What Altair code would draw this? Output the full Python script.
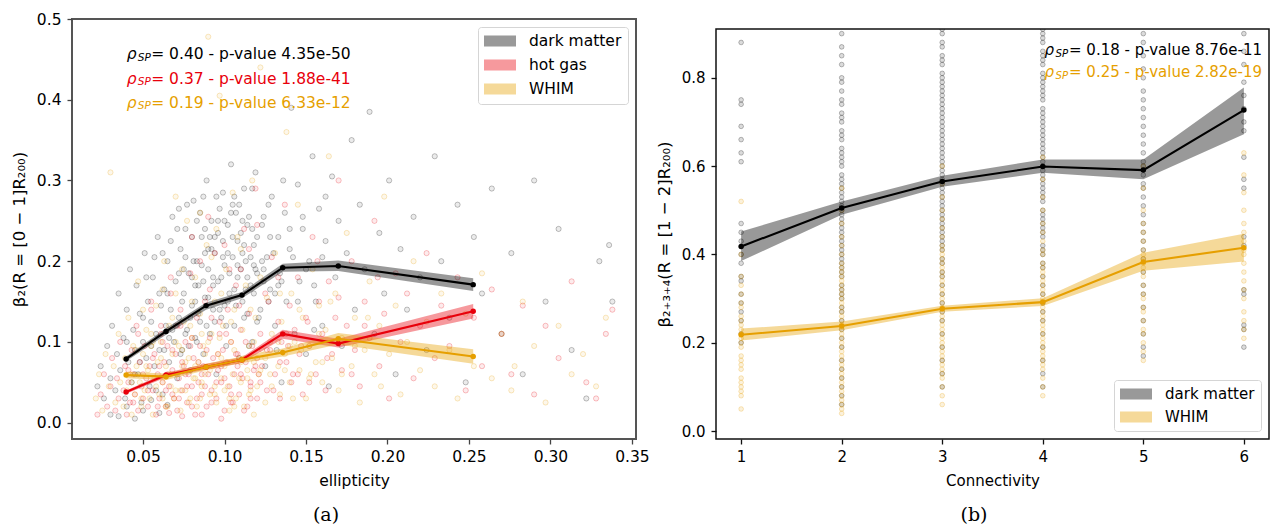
import altair as alt
import pandas as pd

FONT = "DejaVu Sans"
BLACK = "#000000"
RED = "#e8000b"
ORANGE = "#e69f00"

# ---------------- panel (a): binned curves ----------------
ell_bin = [0.0396, 0.0641, 0.0887, 0.1107, 0.1357, 0.1698, 0.2526]
dm_mean = [0.079, 0.113, 0.145, 0.158, 0.192, 0.194, 0.171]
dm_lo = [0.076, 0.109, 0.140, 0.154, 0.187, 0.188, 0.163]
dm_hi = [0.082, 0.117, 0.149, 0.162, 0.197, 0.201, 0.179]
gas_mean = [0.038, 0.059, 0.069, 0.078, 0.110, 0.098, 0.138]
gas_lo = [0.036, 0.056, 0.066, 0.074, 0.104, 0.093, 0.129]
gas_hi = [0.040, 0.062, 0.073, 0.081, 0.115, 0.104, 0.147]
whim_mean = [0.059, 0.057, 0.069, 0.078, 0.087, 0.104, 0.082]
whim_lo = [0.055, 0.053, 0.065, 0.074, 0.082, 0.097, 0.073]
whim_hi = [0.063, 0.061, 0.073, 0.082, 0.092, 0.111, 0.091]

# ---------------- panel (a): individual objects ----------------
dm_pts_x = [0.022, 0.024, 0.026, 0.028, 0.030, 0.031, 0.033, 0.034, 0.035, 0.036,
            0.038, 0.039, 0.040, 0.041, 0.042, 0.043, 0.044, 0.045, 0.046, 0.047,
            0.048, 0.049, 0.050, 0.051, 0.052, 0.053, 0.054, 0.055, 0.056, 0.057,
            0.058, 0.059, 0.060, 0.061, 0.062, 0.063, 0.064, 0.065, 0.066, 0.067,
            0.068, 0.069, 0.070, 0.071, 0.072, 0.073, 0.074, 0.075, 0.076, 0.077,
            0.078, 0.079, 0.080, 0.081, 0.082, 0.083, 0.084, 0.085, 0.086, 0.087,
            0.088, 0.089, 0.090, 0.091, 0.092, 0.093, 0.094, 0.095, 0.096, 0.097,
            0.098, 0.099, 0.100, 0.101, 0.102, 0.103, 0.104, 0.105, 0.106, 0.107,
            0.108, 0.109, 0.110, 0.111, 0.112, 0.113, 0.114, 0.115, 0.116, 0.117,
            0.118, 0.119, 0.120, 0.122, 0.123, 0.125, 0.126, 0.128, 0.129, 0.131,
            0.133, 0.134, 0.135, 0.137, 0.138, 0.140, 0.141, 0.143, 0.145, 0.146,
            0.148, 0.150, 0.152, 0.154, 0.156, 0.158, 0.160, 0.162, 0.164, 0.166,
            0.168, 0.170, 0.172, 0.175, 0.178, 0.180, 0.183, 0.186, 0.189, 0.192,
            0.195, 0.198, 0.201, 0.205, 0.208, 0.212, 0.216, 0.220, 0.224, 0.229,
            0.233, 0.238, 0.243, 0.248, 0.253, 0.258, 0.264, 0.270, 0.276, 0.283,
            0.290, 0.297, 0.305, 0.313, 0.322, 0.330, 0.336, 0.338,
            0.070, 0.072, 0.074, 0.076, 0.078, 0.080, 0.082, 0.084, 0.086, 0.088,
            0.090, 0.092, 0.094, 0.096, 0.098, 0.100, 0.102, 0.104, 0.106, 0.108,
            0.110, 0.112, 0.114, 0.116, 0.118, 0.120, 0.124, 0.127, 0.130, 0.133,
            0.030, 0.040, 0.050, 0.060, 0.045, 0.035, 0.055, 0.065,
            0.062, 0.065, 0.068, 0.071, 0.073, 0.075, 0.077, 0.079, 0.081, 0.083,
            0.085, 0.087, 0.089, 0.091, 0.093, 0.095, 0.097, 0.099, 0.101, 0.103,
            0.105, 0.107, 0.109, 0.111, 0.113, 0.115, 0.117, 0.119, 0.121, 0.124,
            0.045, 0.050, 0.055, 0.060, 0.040, 0.048, 0.058, 0.066, 0.140, 0.150,
            0.160, 0.145, 0.155, 0.135, 0.128, 0.132,
            0.052, 0.057, 0.063, 0.067, 0.072, 0.076, 0.080, 0.083, 0.087, 0.090,
            0.093, 0.096, 0.099, 0.102, 0.105, 0.108, 0.111, 0.114, 0.117, 0.120,
            0.123, 0.127, 0.131, 0.136, 0.142, 0.148, 0.155, 0.162, 0.094, 0.100,
            0.106, 0.112, 0.088, 0.082, 0.118, 0.124]
dm_pts_y = [0.045, 0.070, 0.030, 0.095, 0.055, 0.120, 0.040, 0.085, 0.160, 0.065,
            0.105, 0.030, 0.140, 0.075, 0.190, 0.050, 0.115, 0.090, 0.170, 0.060,
            0.135, 0.025, 0.100, 0.210, 0.080, 0.150, 0.045, 0.125, 0.180, 0.070,
            0.110, 0.230, 0.090, 0.145, 0.035, 0.165, 0.120, 0.200, 0.075, 0.140,
            0.255, 0.100, 0.175, 0.055, 0.130, 0.215, 0.090, 0.160, 0.240, 0.115,
            0.185, 0.065, 0.145, 0.275, 0.105, 0.200, 0.170, 0.125, 0.230, 0.085,
            0.155, 0.300, 0.190, 0.110, 0.250, 0.140, 0.210, 0.060, 0.175, 0.265,
            0.130, 0.225, 0.195, 0.095, 0.245, 0.160, 0.320, 0.205, 0.120, 0.260,
            0.180, 0.080, 0.235, 0.150, 0.290, 0.200, 0.135, 0.255, 0.170, 0.100,
            0.220, 0.310, 0.185, 0.140, 0.245, 0.070, 0.205, 0.165, 0.280, 0.120,
            0.230, 0.185, 0.050, 0.260, 0.150, 0.215, 0.390, 0.110, 0.295, 0.175,
            0.240, 0.085, 0.200, 0.330, 0.150, 0.265, 0.120, 0.225, 0.045, 0.305,
            0.180, 0.250, 0.095, 0.210, 0.350, 0.140, 0.270, 0.190, 0.385, 0.110,
            0.235, 0.160, 0.300, 0.060, 0.215, 0.140, 0.255, 0.180, 0.090, 0.330,
            0.200, 0.130, 0.270, 0.050, 0.230, 0.160, 0.290, 0.110, 0.210, 0.060,
            0.300, 0.150, 0.240, 0.090, 0.030, 0.200, 0.220, 0.150,
            0.120, 0.185, 0.150, 0.205, 0.095, 0.230, 0.170, 0.135, 0.195, 0.240,
            0.155, 0.215, 0.125, 0.250, 0.180, 0.145, 0.210, 0.260, 0.165, 0.225,
            0.190, 0.130, 0.245, 0.205, 0.160, 0.230, 0.190, 0.150, 0.210, 0.170,
            0.010, 0.020, 0.015, 0.012, 0.005, 0.008, 0.028, 0.022,
            0.210, 0.160, 0.115, 0.240, 0.085, 0.190, 0.270, 0.130, 0.200, 0.100,
            0.260, 0.175, 0.120, 0.230, 0.180, 0.280, 0.140, 0.205, 0.120, 0.185,
            0.230, 0.145, 0.270, 0.210, 0.165, 0.095, 0.240, 0.190, 0.130, 0.255,
            0.060, 0.130, 0.095, 0.160, 0.100, 0.075, 0.040, 0.105, 0.240, 0.190,
            0.205, 0.150, 0.115, 0.175, 0.230, 0.090,
            0.180, 0.205, 0.090, 0.225, 0.265, 0.110, 0.180, 0.250, 0.280, 0.215,
            0.170, 0.235, 0.285, 0.150, 0.270, 0.195, 0.250, 0.180, 0.290, 0.125,
            0.200, 0.270, 0.160, 0.300, 0.205, 0.255, 0.170, 0.280, 0.230, 0.250,
            0.280, 0.220, 0.210, 0.150, 0.195, 0.175]

gas_pts_x = [0.022, 0.024, 0.026, 0.028, 0.030, 0.031, 0.033, 0.034, 0.035, 0.036,
             0.038, 0.039, 0.040, 0.041, 0.042, 0.043, 0.044, 0.045, 0.046, 0.047,
             0.048, 0.049, 0.050, 0.051, 0.052, 0.053, 0.054, 0.055, 0.056, 0.057,
             0.058, 0.059, 0.060, 0.061, 0.062, 0.063, 0.064, 0.065, 0.066, 0.067,
             0.068, 0.069, 0.070, 0.071, 0.072, 0.073, 0.074, 0.075, 0.076, 0.077,
             0.078, 0.079, 0.080, 0.081, 0.082, 0.083, 0.084, 0.085, 0.086, 0.087,
             0.088, 0.089, 0.090, 0.091, 0.092, 0.093, 0.094, 0.095, 0.096, 0.097,
             0.098, 0.099, 0.100, 0.101, 0.102, 0.103, 0.104, 0.105, 0.106, 0.107,
             0.108, 0.109, 0.110, 0.111, 0.112, 0.113, 0.114, 0.115, 0.116, 0.117,
             0.118, 0.119, 0.120, 0.122, 0.123, 0.125, 0.126, 0.128, 0.129, 0.131,
             0.133, 0.134, 0.135, 0.137, 0.138, 0.140, 0.141, 0.143, 0.145, 0.146,
             0.148, 0.150, 0.152, 0.154, 0.156, 0.158, 0.160, 0.162, 0.164, 0.166,
             0.168, 0.170, 0.172, 0.175, 0.178, 0.180, 0.183, 0.186, 0.189, 0.192,
             0.195, 0.198, 0.201, 0.205, 0.208, 0.212, 0.216, 0.220, 0.224, 0.229,
             0.233, 0.238, 0.243, 0.248, 0.253, 0.258, 0.264, 0.270, 0.276, 0.283,
             0.290, 0.297, 0.305, 0.313, 0.322, 0.328, 0.334, 0.338,
             0.060, 0.064, 0.068, 0.072, 0.076, 0.080, 0.084, 0.088, 0.092, 0.096,
             0.100, 0.104, 0.108, 0.112, 0.116, 0.120, 0.066, 0.074, 0.086, 0.098,
             0.041, 0.044, 0.047, 0.050, 0.053, 0.056, 0.059, 0.062, 0.065, 0.068,
             0.071, 0.074, 0.077, 0.080, 0.083, 0.086, 0.089, 0.092, 0.095, 0.098,
             0.101, 0.104, 0.107, 0.110, 0.113, 0.116, 0.119, 0.122, 0.126, 0.130,
             0.134, 0.138, 0.142, 0.147, 0.152,
             0.055, 0.061, 0.067, 0.073, 0.079, 0.085, 0.091, 0.097, 0.103, 0.109,
             0.115, 0.121, 0.127, 0.133, 0.139, 0.145, 0.151, 0.157, 0.163, 0.170,
             0.178, 0.186, 0.194, 0.080, 0.090, 0.100, 0.110, 0.120]
gas_pts_y = [0.010, 0.035, 0.060, 0.020, 0.045, 0.080, 0.015, 0.055, 0.030, 0.100,
             0.040, 0.070, 0.010, 0.050, 0.025, 0.090, 0.060, 0.035, 0.120, 0.015,
             0.075, 0.045, 0.030, 0.095, 0.055, 0.020, 0.070, 0.140, 0.040, 0.085,
             0.010, 0.060, 0.030, 0.110, 0.050, 0.075, 0.020, 0.095, 0.045, 0.160,
             0.065, 0.030, 0.085, 0.015, 0.055, 0.120, 0.040, 0.070, 0.100, 0.025,
             0.060, 0.185, 0.045, 0.080, 0.010, 0.130, 0.050, 0.095, 0.035, 0.070,
             0.150, 0.020, 0.060, 0.105, 0.040, 0.080, 0.210, 0.030, 0.065, 0.125,
             0.050, 0.090, 0.015, 0.075, 0.140, 0.045, 0.100, 0.025, 0.060, 0.170,
             0.085, 0.035, 0.115, 0.055, 0.240, 0.075, 0.020, 0.135, 0.045, 0.095,
             0.065, 0.290, 0.030, 0.110, 0.070, 0.160, 0.040, 0.090, 0.205, 0.060,
             0.125, 0.030, 0.100, 0.270, 0.075, 0.145, 0.050, 0.115, 0.180, 0.085,
             0.035, 0.130, 0.095, 0.230, 0.060, 0.150, 0.110, 0.040, 0.175, 0.085,
             0.130, 0.300, 0.065, 0.120, 0.200, 0.090, 0.045, 0.150, 0.105, 0.250,
             0.070, 0.135, 0.030, 0.185, 0.100, 0.160, 0.055, 0.120, 0.210, 0.080,
             0.145, 0.095, 0.180, 0.040, 0.130, 0.070, 0.165, 0.110, 0.060, 0.145,
             0.035, 0.120, 0.080, 0.175, 0.050, 0.030, 0.110, 0.140,
             0.070, 0.040, 0.090, 0.030, 0.060, 0.020, 0.075, 0.045, 0.025, 0.085,
             0.055, 0.035, 0.070, 0.015, 0.050, 0.080, 0.012, 0.008, 0.010, 0.005,
             0.065, 0.025, 0.110, 0.060, 0.040, 0.080, 0.020, 0.100, 0.060, 0.035,
             0.120, 0.075, 0.045, 0.105, 0.030, 0.060, 0.090, 0.130, 0.050, 0.070,
             0.110, 0.025, 0.085, 0.060, 0.100, 0.030, 0.070, 0.050, 0.090, 0.040,
             0.075, 0.110, 0.060, 0.095, 0.050,
             0.150, 0.120, 0.180, 0.140, 0.095, 0.200, 0.165, 0.110, 0.190, 0.145,
             0.215, 0.060, 0.150, 0.180, 0.095, 0.060, 0.125, 0.200, 0.080, 0.155,
             0.060, 0.120, 0.180, 0.230, 0.255, 0.220, 0.190, 0.245]

whim_pts_x = [0.021, 0.023, 0.025, 0.027, 0.029, 0.030, 0.032, 0.033, 0.035, 0.036,
              0.038, 0.039, 0.040, 0.041, 0.042, 0.043, 0.044, 0.045, 0.046, 0.047,
              0.048, 0.049, 0.050, 0.051, 0.052, 0.053, 0.054, 0.055, 0.056, 0.057,
              0.058, 0.059, 0.060, 0.061, 0.062, 0.063, 0.064, 0.065, 0.066, 0.067,
              0.068, 0.069, 0.070, 0.071, 0.072, 0.073, 0.074, 0.075, 0.076, 0.077,
              0.078, 0.079, 0.080, 0.081, 0.082, 0.083, 0.084, 0.085, 0.086, 0.087,
              0.088, 0.089, 0.090, 0.091, 0.092, 0.093, 0.094, 0.095, 0.096, 0.097,
              0.098, 0.099, 0.100, 0.101, 0.102, 0.103, 0.104, 0.105, 0.106, 0.107,
              0.108, 0.109, 0.110, 0.111, 0.112, 0.113, 0.114, 0.115, 0.116, 0.117,
              0.118, 0.119, 0.120, 0.122, 0.123, 0.125, 0.126, 0.128, 0.129, 0.131,
              0.133, 0.134, 0.135, 0.137, 0.138, 0.140, 0.141, 0.143, 0.145, 0.146,
              0.148, 0.150, 0.152, 0.154, 0.156, 0.158, 0.160, 0.162, 0.164, 0.166,
              0.168, 0.170, 0.172, 0.175, 0.178, 0.180, 0.183, 0.186, 0.189, 0.192,
              0.195, 0.198, 0.201, 0.205, 0.208, 0.212, 0.216, 0.220, 0.224, 0.229,
              0.233, 0.238, 0.243, 0.248, 0.253, 0.258, 0.264, 0.270, 0.276, 0.278,
              0.283, 0.290, 0.297, 0.305, 0.313, 0.320, 0.328, 0.334,
              0.062, 0.066, 0.070, 0.074, 0.078, 0.082, 0.086, 0.090, 0.094, 0.098,
              0.102, 0.106, 0.110, 0.114, 0.118, 0.122,
              0.043, 0.046, 0.049, 0.052, 0.055, 0.058, 0.061, 0.064, 0.067, 0.070,
              0.073, 0.076, 0.079, 0.082, 0.085, 0.088, 0.091, 0.094, 0.097, 0.100,
              0.103, 0.106, 0.109, 0.112, 0.115, 0.118, 0.121, 0.125, 0.129, 0.133,
              0.137, 0.142, 0.147, 0.153, 0.160,
              0.050, 0.056, 0.062, 0.068, 0.074, 0.080, 0.086, 0.092, 0.098, 0.104,
              0.110, 0.116, 0.122, 0.128, 0.134, 0.140, 0.146, 0.152, 0.158, 0.165,
              0.172, 0.180, 0.188, 0.196, 0.070, 0.085, 0.095, 0.105]
whim_pts_y = [0.030, 0.060, 0.015, 0.085, 0.045, 0.310, 0.070, 0.025, 0.110, 0.050,
              0.020, 0.080, 0.040, 0.130, 0.060, 0.010, 0.095, 0.035, 0.070, 0.175,
              0.050, 0.020, 0.085, 0.040, 0.115, 0.065, 0.030, 0.095, 0.010, 0.055,
              0.145, 0.075, 0.035, 0.100, 0.050, 0.200, 0.070, 0.020, 0.120, 0.045,
              0.085, 0.030, 0.160, 0.060, 0.095, 0.015, 0.070, 0.125, 0.040, 0.250,
              0.080, 0.030, 0.105, 0.055, 0.180, 0.020, 0.075, 0.135, 0.045, 0.095,
              0.060, 0.220, 0.478, 0.035, 0.110, 0.070, 0.150, 0.025, 0.085, 0.405,
              0.055, 0.120, 0.040, 0.190, 0.075, 0.015, 0.100, 0.060, 0.140, 0.030,
              0.230, 0.080, 0.050, 0.115, 0.020, 0.170, 0.065, 0.095, 0.040, 0.300,
              0.075, 0.130, 0.045, 0.440, 0.090, 0.025, 0.155, 0.060, 0.110, 0.210,
              0.070, 0.035, 0.125, 0.085, 0.360, 0.050, 0.160, 0.100, 0.270, 0.065,
              0.130, 0.030, 0.095, 0.190, 0.075, 0.145, 0.050, 0.115, 0.330, 0.080,
              0.160, 0.040, 0.105, 0.235, 0.070, 0.130, 0.025, 0.090, 0.175, 0.060,
              0.120, 0.280, 0.085, 0.145, 0.035, 0.100, 0.200, 0.065, 0.125, 0.045,
              0.160, 0.090, 0.030, 0.135, 0.070, 0.185, 0.055, 0.110, 0.040, 0.070,
              0.150, 0.095, 0.025, 0.120, 0.060, 0.085, 0.045, 0.130,
              0.030, 0.060, 0.040, 0.090, 0.025, 0.070, 0.050, 0.100, 0.035, 0.080,
              0.045, 0.020, 0.075, 0.055, 0.010, 0.065,
              0.050, 0.090, 0.030, 0.070, 0.110, 0.045, 0.080, 0.020, 0.060, 0.100,
              0.040, 0.075, 0.120, 0.055, 0.030, 0.085, 0.065, 0.045, 0.105, 0.070,
              0.030, 0.090, 0.055, 0.080, 0.035, 0.100, 0.060, 0.080, 0.045, 0.100,
              0.065, 0.030, 0.090, 0.060, 0.075,
              0.140, 0.100, 0.165, 0.130, 0.190, 0.150, 0.110, 0.205, 0.160, 0.125,
              0.215, 0.140, 0.180, 0.100, 0.160, 0.095, 0.140, 0.055, 0.110, 0.150,
              0.060, 0.095, 0.130, 0.045, 0.280, 0.260, 0.240, 0.285]

# ---------------- panel (b): binned curves ----------------
conn = [1, 2, 3, 4, 5, 6]
dm_b_mean = [0.418, 0.505, 0.565, 0.599, 0.591, 0.727]
dm_b_lo = [0.385, 0.490, 0.553, 0.585, 0.570, 0.672]
dm_b_hi = [0.452, 0.520, 0.578, 0.615, 0.615, 0.778]
whim_b_mean = [0.218, 0.238, 0.277, 0.292, 0.383, 0.415]
whim_b_lo = [0.205, 0.228, 0.270, 0.283, 0.363, 0.384]
whim_b_hi = [0.232, 0.248, 0.284, 0.301, 0.404, 0.447]

# ---------------- panel (b): individual objects per connectivity ----------------
dm_c1 = [0.88, 0.75, 0.74, 0.69, 0.66, 0.63, 0.61, 0.47, 0.45, 0.43, 0.40, 0.38, 0.35,
         0.34, 0.31, 0.29, 0.27, 0.25, 0.22, 0.20]
dm_c2 = [0.90, 0.87, 0.85, 0.83, 0.80, 0.79, 0.77, 0.75, 0.74, 0.72, 0.71, 0.70, 0.68,
         0.67, 0.66, 0.64, 0.63, 0.62, 0.61, 0.60, 0.58, 0.57, 0.56, 0.55, 0.54, 0.53,
         0.52, 0.51, 0.50, 0.49, 0.48, 0.47, 0.46, 0.45, 0.44, 0.43, 0.42, 0.41, 0.40,
         0.39, 0.38, 0.37, 0.36, 0.35, 0.33, 0.32, 0.31, 0.30, 0.28, 0.27, 0.25, 0.23,
         0.21, 0.19, 0.16, 0.14, 0.12, 0.10, 0.08, 0.06]
dm_c3 = [0.91, 0.90, 0.88, 0.87, 0.85, 0.84, 0.83, 0.81, 0.80, 0.79, 0.78, 0.77, 0.76,
         0.75, 0.74, 0.73, 0.72, 0.71, 0.70, 0.69, 0.68, 0.67, 0.66, 0.65, 0.64, 0.63,
         0.62, 0.61, 0.60, 0.59, 0.58, 0.57, 0.56, 0.55, 0.54, 0.53, 0.52, 0.51, 0.50,
         0.49, 0.48, 0.47, 0.46, 0.45, 0.44, 0.43, 0.42, 0.41, 0.39, 0.38, 0.36, 0.35,
         0.33, 0.31, 0.29, 0.27, 0.25, 0.22, 0.19, 0.16, 0.13, 0.10]
dm_c4 = [0.91, 0.90, 0.89, 0.88, 0.86, 0.85, 0.84, 0.83, 0.81, 0.80, 0.79, 0.78, 0.77,
         0.76, 0.75, 0.73, 0.72, 0.71, 0.70, 0.69, 0.68, 0.67, 0.66, 0.65, 0.64, 0.63,
         0.62, 0.61, 0.60, 0.59, 0.58, 0.57, 0.56, 0.55, 0.54, 0.53, 0.52, 0.50, 0.49,
         0.48, 0.47, 0.46, 0.45, 0.44, 0.42, 0.41, 0.40, 0.38, 0.37, 0.35, 0.33, 0.31,
         0.29, 0.27, 0.25, 0.22, 0.19, 0.16, 0.13, 0.10]
dm_c5 = [0.90, 0.88, 0.85, 0.82, 0.80, 0.77, 0.75, 0.73, 0.71, 0.69, 0.67, 0.65, 0.63,
         0.61, 0.60, 0.58, 0.56, 0.55, 0.53, 0.51, 0.49, 0.47, 0.45, 0.43, 0.41, 0.39,
         0.36, 0.33, 0.31, 0.28, 0.25, 0.22, 0.19, 0.17]
dm_c6 = [0.90, 0.86, 0.83, 0.79, 0.76, 0.73, 0.70, 0.68, 0.62, 0.57, 0.55, 0.44, 0.42,
         0.32, 0.31, 0.24, 0.23, 0.19]
whim_c1 = [0.52, 0.40, 0.35, 0.33, 0.31, 0.29, 0.28, 0.26, 0.25, 0.24, 0.23, 0.22, 0.21,
           0.20, 0.19, 0.17, 0.16, 0.15, 0.14, 0.12, 0.11, 0.10, 0.09, 0.08, 0.05]
whim_c2 = [0.55, 0.50, 0.47, 0.44, 0.42, 0.40, 0.38, 0.37, 0.36, 0.35, 0.34, 0.33, 0.32,
           0.31, 0.30, 0.29, 0.28, 0.27, 0.26, 0.25, 0.24, 0.23, 0.22, 0.21, 0.20, 0.19,
           0.18, 0.17, 0.16, 0.15, 0.14, 0.13, 0.12, 0.11, 0.10, 0.09, 0.08, 0.07, 0.06,
           0.05, 0.04]
whim_c3 = [0.60, 0.56, 0.53, 0.50, 0.48, 0.46, 0.44, 0.42, 0.41, 0.40, 0.39, 0.38, 0.37,
           0.36, 0.35, 0.34, 0.33, 0.32, 0.31, 0.30, 0.29, 0.28, 0.27, 0.26, 0.25, 0.24,
           0.23, 0.22, 0.21, 0.20, 0.19, 0.18, 0.17, 0.16, 0.15, 0.14, 0.13, 0.12, 0.10,
           0.08, 0.06]
whim_c4 = [0.62, 0.57, 0.53, 0.50, 0.47, 0.45, 0.43, 0.41, 0.40, 0.38, 0.37, 0.36, 0.35,
           0.34, 0.33, 0.32, 0.31, 0.30, 0.29, 0.28, 0.27, 0.26, 0.25, 0.24, 0.23, 0.22,
           0.21, 0.20, 0.19, 0.18, 0.17, 0.16, 0.15, 0.14, 0.12, 0.10, 0.08]
whim_c5 = [0.60, 0.55, 0.50, 0.47, 0.45, 0.43, 0.41, 0.40, 0.39, 0.38, 0.37, 0.36, 0.35,
           0.33, 0.31, 0.30, 0.28, 0.27, 0.25, 0.23, 0.22, 0.20, 0.18, 0.16]
whim_c6 = [0.63, 0.58, 0.54, 0.50, 0.47, 0.45, 0.43, 0.41, 0.40, 0.38, 0.36, 0.34, 0.32,
           0.30, 0.27, 0.25, 0.23, 0.21]

# ---------------- annotations ----------------
a_rho = ["0.40", "0.37", "0.19"]
a_pval = ["4.35e-50", "1.88e-41", "6.33e-12"]
a_colors = [BLACK, RED, ORANGE]
b_rho = ["0.18", "0.25"]
b_pval = ["8.76e-11", "2.82e-19"]
b_colors = [BLACK, ORANGE]
series_a = ["dark matter", "hot gas", "WHIM"]
series_b = ["dark matter", "WHIM"]

# ---------------- build tables ----------------
def curve_df(xs, mean, lo, hi, name):
    return pd.DataFrame({"x": xs, "y": mean, "lo": lo, "hi": hi, "series": name})

curves_a = pd.concat([
    curve_df(ell_bin, dm_mean, dm_lo, dm_hi, "dark matter"),
    curve_df(ell_bin, gas_mean, gas_lo, gas_hi, "hot gas"),
    curve_df(ell_bin, whim_mean, whim_lo, whim_hi, "WHIM"),
], ignore_index=True)
pts_a = {
    "dark matter": pd.DataFrame({"x": dm_pts_x, "y": dm_pts_y}),
    "hot gas": pd.DataFrame({"x": gas_pts_x, "y": gas_pts_y}),
    "WHIM": pd.DataFrame({"x": whim_pts_x, "y": whim_pts_y}),
}
curves_b = pd.concat([
    curve_df(conn, dm_b_mean, dm_b_lo, dm_b_hi, "dark matter"),
    curve_df(conn, whim_b_mean, whim_b_lo, whim_b_hi, "WHIM"),
], ignore_index=True)

def strip_df(lists):
    xs, ys = [], []
    for c, vals in zip(conn, lists):
        xs += [c] * len(vals)
        ys += vals
    return pd.DataFrame({"x": xs, "y": ys})

pts_b = {
    "dark matter": strip_df([dm_c1, dm_c2, dm_c3, dm_c4, dm_c5, dm_c6]),
    "WHIM": strip_df([whim_c1, whim_c2, whim_c3, whim_c4, whim_c5, whim_c6]),
}

# ---------------- helpers ----------------
def make_axis(title, values, fmt, fs, tfs, tick_color, lab_pad, title_pad):
    return alt.Axis(title=title, values=values, format=fmt, grid=False, domain=False,
                    ticks=True, tickSize=5, tickWidth=1.3, tickColor=tick_color,
                    labelFont=FONT, labelFontSize=fs, labelColor="black",
                    labelPadding=lab_pad, labelFlush=False, labelOverlap=False,
                    titleFont=FONT, titleFontSize=tfs, titleFontWeight="normal",
                    titleColor="black", titlePadding=title_pad)


def annotation_layers(rhos, pvals, colors, x0, y0, dy, fs):
    layers = []
    for i, (r, p, c) in enumerate(zip(rhos, pvals, colors)):
        df = pd.DataFrame({"r": [r], "p": [p]})
        yy = y0 + i * dy
        base = alt.Chart(df)
        layers.append(base.mark_text(align="left", baseline="middle", font=FONT,
                                     fontSize=fs, fontStyle="italic", color=c)
                      .encode(x=alt.value(x0), y=alt.value(yy), text=alt.value("ρ")))
        layers.append(base.mark_text(align="left", baseline="middle", font=FONT,
                                     fontSize=fs * 0.68, fontStyle="italic", color=c)
                      .encode(x=alt.value(x0 + 11), y=alt.value(yy + 3.5), text=alt.value("SP")))
        layers.append(base.transform_calculate(t="'= ' + datum.r + ' - p-value ' + datum.p")
                      .mark_text(align="left", baseline="middle", font=FONT,
                                 fontSize=fs, color=c)
                      .encode(x=alt.value(x0 + 24.5), y=alt.value(yy), text="t:N"))
    return layers


def panel(curves, pts, series, colors, band_colors, xscale, yscale, xaxis, yaxis,
          legend, ann, caption, cap_pos, w, h, pt_size, fo, so, frame_color, frame_w):
    layers = []
    for s, c in zip(series, colors):
        layers.append(
            alt.Chart(pts[s]).mark_circle(color=c, size=pt_size, fillOpacity=fo,
                                          stroke=c, strokeOpacity=so, strokeWidth=1,
                                          clip=True)
            .encode(x=alt.X("x:Q", scale=xscale, axis=xaxis),
                    y=alt.Y("y:Q", scale=yscale, axis=yaxis))
        )
    layers.append(
        alt.Chart(curves).mark_area(opacity=0.4, clip=True)
        .encode(x=alt.X("x:Q", scale=xscale, axis=xaxis),
                y=alt.Y("lo:Q", scale=yscale, axis=yaxis),
                y2="hi:Q",
                color=alt.Color("series:N", scale=alt.Scale(domain=series, range=band_colors),
                                sort=series, legend=legend))
    )
    for s, c in zip(series, colors):
        sub = alt.Chart(curves).transform_filter(alt.datum.series == s)
        layers.append(sub.mark_line(color=c, strokeWidth=2.1)
                      .encode(x=alt.X("x:Q", scale=xscale, axis=xaxis),
                              y=alt.Y("y:Q", scale=yscale, axis=yaxis)))
        layers.append(sub.mark_circle(color=c, size=30, opacity=1)
                      .encode(x=alt.X("x:Q", scale=xscale, axis=xaxis),
                              y=alt.Y("y:Q", scale=yscale, axis=yaxis)))
    layers += ann
    cap_df = pd.DataFrame({"c": [caption]})
    layers.append(alt.Chart(cap_df).mark_text(font="DejaVu Serif", fontSize=19,
                                              color="black", baseline="middle",
                                              align="center")
                  .encode(x=alt.value(cap_pos[0]), y=alt.value(cap_pos[1]), text="c:N"))
    return alt.layer(*layers).properties(
        width=w, height=h,
        view=alt.ViewBackground(stroke=frame_color, strokeWidth=frame_w, fill="white"))


def make_legend(orient, fs, offset):
    # wide flat patch (32 x 11 px) drawn from the left edge of a 16 px symbol slot
    return alt.Legend(title=None, orient=orient, offset=offset, padding=6,
                      strokeColor="#d5d5d5", cornerRadius=3, fillColor="white",
                      labelFont=FONT, labelFontSize=fs, labelColor="black",
                      symbolType="M-1,-0.69H3V0.69H-1Z", symbolSize=256,
                      symbolOpacity=0.4, symbolStrokeWidth=0, labelOffset=29,
                      rowPadding=7)


# ---------------- panel (a) ----------------
xs_a = alt.Scale(domain=[0.0064, 0.3525], nice=False, zero=False)
ys_a = alt.Scale(domain=[-0.0202, 0.5], nice=False, zero=False)
xa_a = make_axis("ellipticity", [0.05, 0.10, 0.15, 0.20, 0.25, 0.30, 0.35], ".2f",
                 15.5, 15.5, "#444444", 5, 9)
ya_a = make_axis("β₂(R = [0 − 1]R₂₀₀)", [0.0, 0.1, 0.2, 0.3, 0.4, 0.5], ".1f",
                 15.5, 16.5, "#444444", 6, 9)
ann_a = annotation_layers(a_rho, a_pval, a_colors, 54.7, 35.3, 24.2, 15.5)
left = panel(curves_a, pts_a, series_a, [BLACK, RED, ORANGE], [BLACK, RED, ORANGE],
             xs_a, ys_a, xa_a, ya_a, make_legend("top-right", 15.5, 8), ann_a,
             "(a)", (254, 496), 564, 420, 27, 0.08, 0.24, "#555555", 2)

# ---------------- panel (b) ----------------
xs_b = alt.Scale(domain=[0.75, 6.25], nice=False, zero=False)
ys_b = alt.Scale(domain=[-0.018, 0.9105], nice=False, zero=False)
xa_b = make_axis("Connectivity", conn, "d", 15, 15, "#111111", 5, 9)
ya_b = make_axis("β₂₊₃₊₄(R = [1 − 2]R₂₀₀)", [0.0, 0.2, 0.4, 0.6, 0.8], ".1f",
                 15, 16.5, "#111111", 6, 9)
ann_b = annotation_layers(b_rho, b_pval, [BLACK, ORANGE], 328.5, 21, 22, 15)
right_main = panel(curves_b, pts_b, series_b, [BLACK, ORANGE], [BLACK, ORANGE],
                   xs_b, ys_b, xa_b, ya_b, make_legend("bottom-right", 15, 8), ann_b,
                   "(b)", (258, 486), 553, 410, 22, 0.14, 0.26, "#111111", 1.5)

spacer = alt.Chart(pd.DataFrame({"a": [0]})).mark_point(opacity=0).encode(
    x=alt.value(0), y=alt.value(0)
).properties(width=553, height=10,
             view=alt.ViewBackground(stroke="transparent", fill="transparent"))

right = alt.vconcat(spacer, right_main, spacing=0, bounds="flush").resolve_scale(
    color="independent").resolve_legend(color="independent")

chart = alt.hconcat(left, right, spacing=80, bounds="flush").resolve_scale(
    color="independent").resolve_legend(color="independent").properties(
    padding={"left": 10, "top": 11, "right": 0, "bottom": 0},
    background="white",
)

chart.save("out.html", embed_options={"renderer": "svg", "actions": False})
